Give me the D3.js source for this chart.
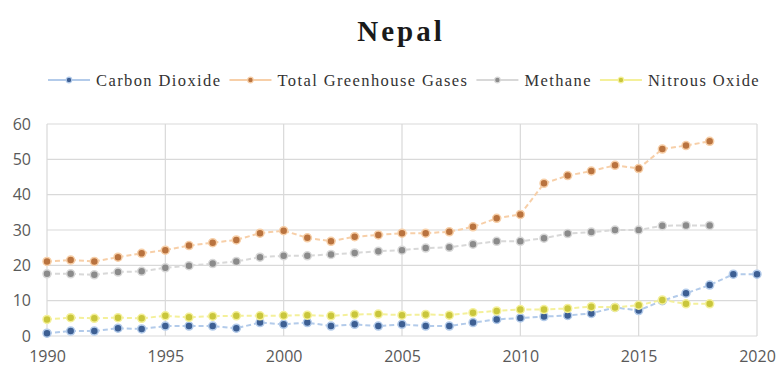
<!DOCTYPE html>
<html>
<head>
<meta charset="utf-8">
<script src="https://cdn.jsdelivr.net/npm/d3@7"></script>
<style>
  html, body { margin: 0; padding: 0; background: #fff; }
  svg { display: block; }
</style>
</head>
<body>
<svg id="chart" width="777" height="372"></svg>
<script>
// Emissions for Nepal, by year
const years = d3.range(1990, 2021);

const carbonDioxide = [0.8, 1.4, 1.4, 2.2, 2.0, 2.8, 2.8, 2.8, 2.2, 3.8,
  3.3, 3.8, 2.8, 3.3, 2.8, 3.3, 2.8, 2.8, 3.8, 4.7,
  5.1, 5.5, 5.8, 6.4, 8.1, 7.2, 10.0, 12.1, 14.4, 17.5, 17.5];

const totalGreenhouseGases = [21.1, 21.5, 21.1, 22.3, 23.4, 24.3, 25.6, 26.4, 27.2, 29.1,
  29.8, 27.8, 26.8, 28.1, 28.6, 29.1, 29.1, 29.5, 30.9, 33.3,
  34.4, 43.2, 45.4, 46.7, 48.3, 47.4, 52.9, 53.9, 55.1];

const methane = [17.6, 17.6, 17.3, 18.1, 18.3, 19.3, 19.9, 20.5, 21.1, 22.3,
  22.7, 22.7, 23.1, 23.5, 24.0, 24.3, 24.9, 25.1, 26.0, 26.8,
  26.8, 27.7, 29.0, 29.4, 30.0, 30.0, 31.2, 31.3, 31.3];

const nitrousOxide = [4.7, 5.2, 5.0, 5.2, 5.0, 5.7, 5.3, 5.6, 5.7, 5.7,
  5.8, 5.9, 5.7, 6.1, 6.2, 5.9, 6.1, 5.9, 6.6, 7.1,
  7.5, 7.5, 7.8, 8.3, 8.1, 8.7, 10.2, 9.1, 9.1];

const seriesNames = ["Carbon Dioxide", "Total Greenhouse Gases", "Methane", "Nitrous Oxide"];
const yTicks = [0, 10, 20, 30, 40, 50, 60];
const xTicks = [1990, 1995, 2000, 2005, 2010, 2015, 2020];

const series = [
  { name: seriesNames[0], values: carbonDioxide, dot: "#3d5f93", line: "#b3cbea" },
  { name: seriesNames[1], values: totalGreenhouseGases, dot: "#b9733f", line: "#f7cfa8" },
  { name: seriesNames[2], values: methane, dot: "#8b8b8b", line: "#d8d8d8" },
  { name: seriesNames[3], values: nitrousOxide, dot: "#c9c63c", line: "#f4f09a" }
];

const svg = d3.select("#chart");
const margin = { left: 47, right: 20, top: 124, bottom: 36 };
const W = 777, H = 372;

const x = d3.scaleLinear().domain([1990, 2020]).range([margin.left, W - margin.right]);
const y = d3.scaleLinear().domain([0, 60]).range([H - margin.bottom, margin.top]);

// Title
svg.append("text")
  .attr("x", 401).attr("y", 41)
  .attr("text-anchor", "middle")
  .attr("font-family", "'Liberation Serif', 'Times New Roman', serif")
  .attr("font-weight", "bold")
  .attr("font-size", 29)
  .attr("letter-spacing", 3)
  .attr("fill", "#1a1a1a")
  .text("Nepal");

// Legend
const legend = svg.append("g").attr("transform", "translate(0,80)");
let lx = 48;
series.forEach(s => {
  const g = legend.append("g");
  g.append("line").attr("x1", lx).attr("x2", lx + 42).attr("y1", 0).attr("y2", 0)
    .attr("stroke", s.line).attr("stroke-width", 2);
  g.append("circle").attr("cx", lx + 21).attr("cy", 0).attr("r", 2.8)
    .attr("fill", s.dot).attr("stroke", s.line).attr("stroke-width", 1.2);
  const t = g.append("text").attr("x", lx + 48).attr("y", 5.5)
    .attr("font-family", "'Liberation Serif', 'Times New Roman', serif")
    .attr("font-size", 16.5)
    .attr("letter-spacing", 1.4)
    .attr("fill", "#333")
    .text(s.name);
  lx = lx + 48 + t.node().getComputedTextLength() + 8;
});

// Gridlines
const grid = svg.append("g");
grid.selectAll("line.h").data(yTicks).join("line")
  .attr("class", "h")
  .attr("x1", x(1990)).attr("x2", x(2020))
  .attr("y1", d => y(d)).attr("y2", d => y(d))
  .attr("stroke", "#d9d9d9").attr("stroke-width", 1.2);
grid.selectAll("line.v").data(xTicks).join("line")
  .attr("class", "v")
  .attr("x1", d => x(d)).attr("x2", d => x(d))
  .attr("y1", y(0)).attr("y2", y(60))
  .attr("stroke", "#d9d9d9").attr("stroke-width", 1.2);

// Axes
const yAxis = svg.append("g")
  .attr("transform", `translate(${margin.left},0)`)
  .call(d3.axisLeft(y).tickValues(yTicks).tickSize(0).tickPadding(16));
const xAxis = svg.append("g")
  .attr("transform", `translate(0,${y(0)})`)
  .call(d3.axisBottom(x).tickValues(xTicks).tickFormat(d3.format("d")).tickSize(0).tickPadding(15));
[yAxis, xAxis].forEach(a => {
  a.select(".domain").remove();
  a.selectAll("text")
    .attr("font-family", "'Open Sans', sans-serif")
    .attr("font-size", 16)
    .attr("fill", "#595959");
});

// Series lines and markers
const lineGen = d3.line().x((d, i) => x(years[i])).y(d => y(d));
series.forEach(s => {
  svg.append("path")
    .datum(s.values)
    .attr("d", lineGen)
    .attr("fill", "none")
    .attr("stroke", s.line)
    .attr("stroke-width", 2)
    .attr("stroke-dasharray", "5,3");
});
series.forEach(s => {
  svg.append("g").selectAll("circle").data(s.values).join("circle")
    .attr("cx", (d, i) => x(years[i]))
    .attr("cy", d => y(d))
    .attr("r", 4)
    .attr("fill", s.dot)
    .attr("stroke", s.line)
    .attr("stroke-width", 1.5);
});
</script>
</body>
</html>
